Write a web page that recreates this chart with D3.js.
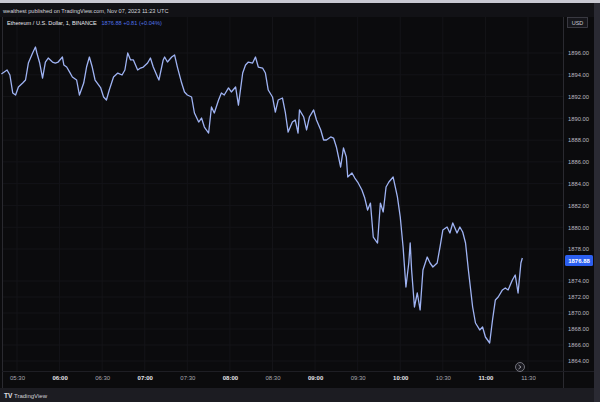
<!DOCTYPE html>
<html><head><meta charset="utf-8">
<script src="https://cdn.jsdelivr.net/npm/d3@7"></script>
<style>html,body{margin:0;padding:0;background:#0b0b0d;}svg{display:block;}</style>
</head><body>
<script>
const times = ["05:19","05:20","05:23","05:25","05:27","05:29","05:31","05:34","05:36","05:38","05:41","05:43","05:44","05:46","05:48","05:50","05:52","05:55","05:57","05:59","06:02","06:03","06:05","06:07","06:09","06:12","06:14","06:17","06:19","06:21","06:23","06:25","06:29","06:31","06:33","06:35","06:38","06:41","06:44","06:46","06:48","06:50","06:52","06:55","06:57","06:59","07:02","07:04","07:06","07:09","07:10","07:13","07:14","07:16","07:19","07:21","07:23","07:26","07:28","07:30","07:33","07:35","07:38","07:40","07:42","07:45","07:47","07:49","07:52","07:54","07:56","07:59","08:01","08:04","08:06","08:09","08:11","08:13","08:16","08:18","08:20","08:23","08:25","08:27","08:30","08:32","08:34","08:37","08:39","08:41","08:44","08:46","08:48","08:49","08:52","08:54","08:56","08:59","09:01","09:04","09:06","09:08","09:11","09:13","09:15","09:18","09:20","09:22","09:23","09:26","09:28","09:30","09:33","09:35","09:37","09:39","09:41","09:44","09:46","09:48","09:50","09:52","09:55","09:58","10:00","10:02","10:04","10:06","10:07","10:08","10:10","10:12","10:14","10:16","10:19","10:21","10:23","10:26","10:28","10:30","10:33","10:35","10:37","10:40","10:42","10:44","10:46","10:48","10:51","10:53","10:56","10:58","11:00","11:03","11:05","11:07","11:09","11:12","11:14","11:16","11:19","11:21","11:23","11:25","11:26"];
const prices = [1894.07,1894.16,1894.44,1893.98,1892.33,1892.14,1892.88,1893.24,1893.52,1895.08,1896.00,1896.55,1896.00,1895.08,1893.70,1895.17,1895.54,1895.17,1895.08,1895.17,1895.63,1894.90,1894.71,1894.26,1893.80,1893.52,1892.14,1893.24,1894.71,1895.63,1894.71,1893.52,1892.79,1891.96,1891.68,1892.60,1893.80,1894.16,1893.98,1894.44,1896.00,1895.36,1895.36,1894.44,1894.62,1894.71,1895.08,1895.54,1894.71,1893.80,1893.52,1895.36,1895.63,1895.17,1895.63,1895.82,1894.71,1893.24,1892.42,1892.14,1891.96,1890.49,1889.66,1890.03,1889.20,1888.65,1891.04,1890.49,1891.68,1892.33,1892.14,1892.79,1892.42,1892.88,1891.22,1894.16,1894.90,1895.17,1895.08,1895.63,1894.71,1894.62,1894.16,1892.60,1891.96,1890.58,1891.68,1891.87,1890.58,1888.74,1889.66,1889.85,1888.65,1890.77,1890.12,1888.93,1890.12,1890.77,1889.85,1888.93,1888.01,1888.01,1888.29,1888.19,1887.37,1885.53,1887.28,1886.45,1884.61,1884.98,1884.52,1884.15,1883.42,1882.68,1881.58,1882.22,1879.10,1878.55,1882.22,1881.40,1883.69,1884.15,1884.61,1882.78,1880.94,1878.18,1873.25,1876.25,1878.55,1875.38,1870.75,1872.50,1870.38,1875.38,1877.00,1876.25,1875.75,1876.25,1878.18,1879.74,1880.02,1879.47,1880.39,1879.47,1880.02,1879.56,1878.55,1875.38,1870.75,1868.75,1867.88,1868.25,1867.00,1866.25,1869.13,1871.63,1872.00,1872.88,1873.13,1872.88,1874.13,1874.75,1872.50,1876.25,1876.88];
const xTickLabels = ["05:30","06:00","06:30","07:00","07:30","08:00","08:30","09:00","09:30","10:00","10:30","11:00","11:30"];
const yTickValues = [1896,1894,1892,1890,1888,1886,1884,1882,1880,1878,1874,1872,1870,1868,1866,1864];
const lastPrice = 1876.88;
const symbolTitle = "Ethereum / U.S. Dollar, 1, BINANCE";
const quoteText = "1876.88 +0.81 (+0.04%)";
const publishText = "wealthest published on TradingView.com, Nov 07, 2023 11:23 UTC";

const W = 600, H = 402;
const toMin = s => { const [h, m] = s.split(":").map(Number); return h * 60 + m; };
const data = times.map((t, i) => ({ t: toMin(t), v: prices[i] }));

const svg = d3.select("body").append("svg").attr("width", W).attr("height", H);
const font = "'Liberation Sans', Arial, sans-serif";

// backgrounds
svg.append("rect").attr("width", W).attr("height", H).attr("fill", "#0b0b0d");
svg.append("rect").attr("x", 0).attr("y", 0).attr("width", W).attr("height", 3).attr("fill", "#c9c9d2");
svg.append("rect").attr("x", 0).attr("y", 3).attr("width", W).attr("height", 14).attr("fill", "#121216");
svg.append("rect").attr("x", 0).attr("y", 388).attr("width", W).attr("height", 14).attr("fill", "#1c1c22");
svg.append("rect").attr("x", 594).attr("y", 3).attr("width", 6).attr("height", 399).attr("fill", "#2a2a33");

const plotL = 3, plotR = 563, plotT = 17, plotB = 371;

const x = d3.scaleLinear().domain([toMin("05:30"), toMin("11:30")]).range([17, 528]);
const y = d3.scaleLinear().domain([1896, 1878, 1864]).range([53, 249, 361]);

// grid
const grid = svg.append("g");
grid.selectAll("line.v").data(xTickLabels).join("line")
  .attr("x1", d => x(toMin(d))).attr("x2", d => x(toMin(d)))
  .attr("y1", plotT).attr("y2", plotB).attr("stroke", "#141418").attr("stroke-width", 1);
grid.selectAll("line.h").data(yTickValues).join("line")
  .attr("x1", plotL).attr("x2", plotR)
  .attr("y1", d => y(d)).attr("y2", d => y(d)).attr("stroke", "#141418").attr("stroke-width", 1);

// pane borders
svg.append("line").attr("x1", 2.5).attr("x2", 2.5).attr("y1", plotT).attr("y2", 388).attr("stroke", "#2a2a30");
svg.append("line").attr("x1", plotR + 0.5).attr("x2", plotR + 0.5).attr("y1", plotT).attr("y2", 388).attr("stroke", "#2a2a30");
svg.append("line").attr("x1", 2).attr("x2", 594).attr("y1", plotB + 0.5).attr("y2", plotB + 0.5).attr("stroke", "#1e1e24");

// price line
const line = d3.line().x(d => x(d.t)).y(d => y(d.v)).curve(d3.curveLinear);
svg.append("path").datum(data).attr("d", line)
  .attr("fill", "none").attr("stroke", "#9fb3f3").attr("stroke-width", 1.3).attr("stroke-linejoin", "round");

// y axis labels
const yAxis = d3.axisRight(y).tickValues(yTickValues).tickSize(0).tickPadding(0)
  .tickFormat(d => d3.format(".2f")(d));
const ya = svg.append("g").attr("transform", `translate(568,0)`).call(yAxis);
ya.select(".domain").remove();
ya.selectAll("text").attr("fill", "#b9b9c0").attr("font-size", 5.8).attr("font-family", font);

// current price label
svg.append("rect").attr("x", 565).attr("y", y(lastPrice) - 3).attr("width", 28).attr("height", 11)
  .attr("rx", 1.5).attr("fill", "#2c5ff0");
svg.append("text").attr("x", 579).attr("y", y(lastPrice) + 2.5).attr("dy", "0.35em")
  .attr("text-anchor", "middle").attr("fill", "#ffffff").attr("font-size", 6).attr("font-weight", "bold")
  .attr("font-family", font).text(d3.format(".2f")(lastPrice));

// USD box
svg.append("rect").attr("x", 567.5).attr("y", 17.5).attr("width", 20).attr("height", 10)
  .attr("fill", "#16161b").attr("stroke", "#44444e").attr("stroke-width", 0.8);
svg.append("text").attr("x", 577.5).attr("y", 24.6).attr("text-anchor", "middle")
  .attr("fill", "#c8c8d0").attr("font-size", 5.5).attr("font-family", font).text("USD");

// x axis labels
const xAxis = d3.axisBottom(x).tickValues(xTickLabels.map(toMin)).tickSize(0).tickPadding(0)
  .tickFormat((d, i) => xTickLabels[i]);
const xa = svg.append("g").attr("transform", `translate(0,376)`).call(xAxis);
xa.select(".domain").remove();
xa.selectAll("text").attr("font-size", 6).attr("font-family", font)
  .attr("fill", (d, i) => xTickLabels[i].endsWith(":00") ? "#e6e6ea" : "#a8a8b0")
  .attr("font-weight", (d, i) => xTickLabels[i].endsWith(":00") ? "bold" : "normal");

// scroll-to-realtime button
svg.append("circle").attr("cx", 520).attr("cy", 367).attr("r", 4.5)
  .attr("fill", "#1a1a20").attr("stroke", "#8a8a94").attr("stroke-width", 0.8);
svg.append("path").attr("d", "M518.5,365 L521,367 L518.5,369").attr("fill", "none").attr("stroke", "#b0b0b8").attr("stroke-width", 0.8);

// header texts
svg.append("text").attr("x", 3).attr("y", 12.5).attr("fill", "#d5d5dc").attr("font-size", 5.6)
  .attr("font-family", font).text(publishText);
const hdr = svg.append("text").attr("x", 7).attr("y", 25).attr("font-size", 5.6).attr("font-family", font);
hdr.append("tspan").attr("fill", "#e8e8ee").text(symbolTitle + " ");
hdr.append("tspan").attr("fill", "#4f72e8").attr("dx", 3).text(quoteText);

// footer
svg.append("text").attr("x", 4).attr("y", 397.5).attr("fill", "#e0e0e6").attr("font-size", 6.5)
  .attr("font-weight", "bold").attr("font-family", font).text("TV");
svg.append("text").attr("x", 14).attr("y", 397.5).attr("fill", "#d0d0d8").attr("font-size", 6)
  .attr("font-family", font).text("TradingView");
</script>
</body></html>
